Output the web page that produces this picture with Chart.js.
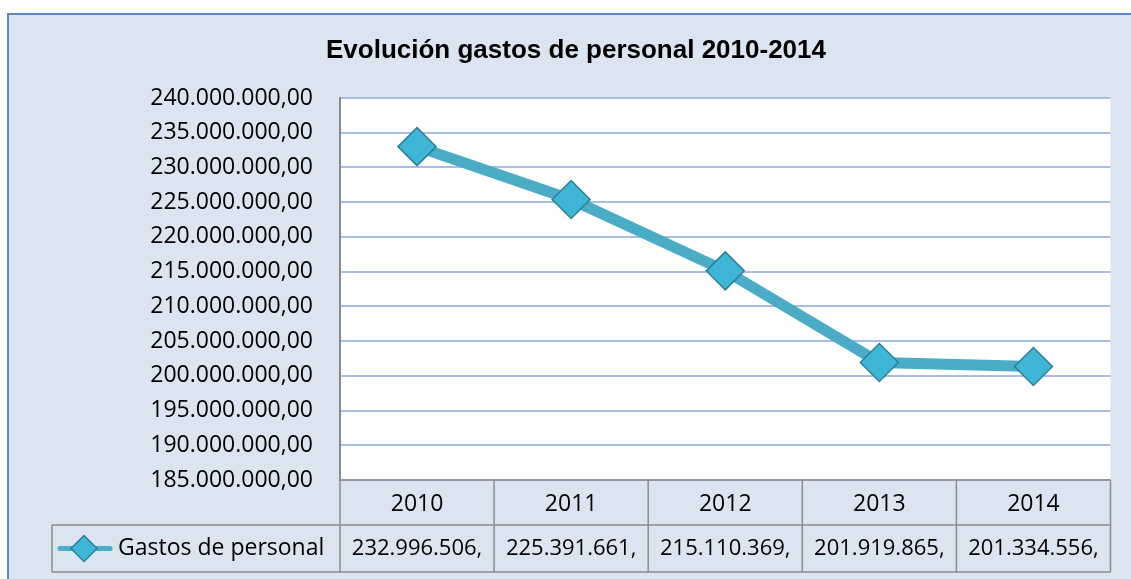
<!DOCTYPE html>
<html>
<head>
<meta charset="utf-8">
<title>Evolución gastos de personal 2010-2014</title>
<script src="https://cdn.jsdelivr.net/npm/chart.js@4.4.1/dist/chart.umd.min.js"></script>
<style>
    body { margin: 0; background: #ffffff; }
    #wrap { width: 1131px; height: 579px; }
</style>
</head>
<body>
<div id="wrap"><canvas id="chart" width="1131" height="579"></canvas></div>
<script>
const years = ['2010', '2011', '2012', '2013', '2014'];
const gastos = [232996506, 225391661, 215110369, 201919865, 201334556];
const yMin = 185000000;
const yMax = 240000000;
const yStep = 5000000;
const seriesName = 'Gastos de personal';
const chartTitle = 'Evolución gastos de personal 2010-2014';

const LINE_COLOR = '#4bacc6';
const MARKER_FILL = '#3fb6d6';
const MARKER_EDGE = '#2b7f98';
const TABLE_LINE = '#8c8c8c';
const FONT = "'Open Sans', sans-serif";

// 232996506 -> "232.996.506"
function withDots(n) {
    return String(Math.floor(n)).replace(/\B(?=(\d{3})+(?!\d))/g, '.');
}

function drawDiamond(ctx, x, y, r) {
    ctx.beginPath();
    ctx.moveTo(x, y - r);
    ctx.lineTo(x + r, y);
    ctx.lineTo(x, y + r);
    ctx.lineTo(x - r, y);
    ctx.closePath();
    ctx.fillStyle = MARKER_FILL;
    ctx.fill();
    ctx.lineWidth = 1.5;
    ctx.strokeStyle = MARKER_EDGE;
    ctx.stroke();
}

// frame, title, white plot area, and the data table under the x axis
const framePlugin = {
    id: 'frame',
    beforeDraw(chart) {
        const { ctx, chartArea: a } = chart;
        ctx.save();
        ctx.fillStyle = '#dbe5f1';
        ctx.fillRect(8, 14, chart.width, chart.height);
        ctx.strokeStyle = '#5b87c5';
        ctx.lineWidth = 2;
        ctx.strokeRect(8, 14, chart.width + 10, chart.height + 10);
        ctx.fillStyle = '#ffffff';
        ctx.fillRect(a.left, a.top, a.right - a.left, a.bottom - a.top);

        ctx.fillStyle = '#000000';
        ctx.font = "bold 26px 'Liberation Sans', Arial, sans-serif";
        ctx.textAlign = 'center';
        ctx.textBaseline = 'middle';
        ctx.fillText(chartTitle, 576, 51);
        ctx.restore();
    },
    afterDraw(chart) {
        const { ctx, chartArea: a } = chart;
        const x = chart.scales.x;
        const step = (a.right - a.left) / years.length;
        const rowMid = a.bottom + 45;
        const rowBot = a.bottom + 92;
        const legLeft = 52;

        ctx.save();
        ctx.strokeStyle = TABLE_LINE;
        ctx.lineWidth = 1.5;
        ctx.beginPath();
        ctx.moveTo(a.left, a.bottom); ctx.lineTo(a.right, a.bottom);
        ctx.moveTo(legLeft, rowMid); ctx.lineTo(a.right, rowMid);
        ctx.moveTo(legLeft, rowBot); ctx.lineTo(a.right, rowBot);
        ctx.moveTo(legLeft, rowMid); ctx.lineTo(legLeft, rowBot);
        for (let i = 0; i <= years.length; i++) {
            const xx = a.left + i * step;
            ctx.moveTo(xx, a.bottom); ctx.lineTo(xx, rowBot);
        }
        ctx.stroke();

        // legend key in the first column
        const ky = (rowMid + rowBot) / 2;
        ctx.strokeStyle = LINE_COLOR;
        ctx.lineWidth = 5;
        ctx.lineCap = 'round';
        ctx.beginPath();
        ctx.moveTo(60, ky); ctx.lineTo(110, ky);
        ctx.stroke();
        drawDiamond(ctx, 84, ky, 13);

        ctx.fillStyle = '#000000';
        ctx.font = '23px ' + FONT;
        ctx.textBaseline = 'middle';
        ctx.textAlign = 'left';
        ctx.fillText(seriesName, 118, ky);

        ctx.font = '22px ' + FONT;
        ctx.textAlign = 'center';
        gastos.forEach((v, i) => {
            ctx.fillText(withDots(v) + ',', x.getPixelForValue(i), ky);
        });
        ctx.restore();
    }
};

new Chart(document.getElementById('chart'), {
    type: 'line',
    data: {
        labels: years,
        datasets: [{
            label: seriesName,
            data: gastos,
            borderColor: LINE_COLOR,
            borderWidth: 11,
            pointStyle: 'rectRot',
            pointRadius: 19,
            pointBackgroundColor: MARKER_FILL,
            pointBorderColor: MARKER_EDGE,
            pointBorderWidth: 1.5,
            tension: 0
        }]
    },
    options: {
        responsive: false,
        animation: false,
        layout: { padding: { left: 0, right: 16, top: 98, bottom: 0 } },
        plugins: {
            legend: { display: false },
            tooltip: { enabled: false },
            title: { display: false }
        },
        scales: {
            x: {
                offset: true,
                grid: { display: false, drawTicks: false },
                border: { display: false },
                ticks: { color: '#000000', font: { family: FONT, size: 23 }, padding: 11 },
                afterFit(scale) { scale.height = 99; }
            },
            y: {
                min: yMin,
                max: yMax,
                grid: { color: '#a9bde6', lineWidth: 2, drawTicks: false },
                border: { color: '#8a8a8a', width: 2 },
                ticks: {
                    stepSize: yStep,
                    color: '#000000',
                    font: { family: FONT, size: 23 },
                    padding: 27,
                    callback: v => withDots(v) + ',00'
                },
                afterFit(scale) { scale.width = 340; }
            }
        }
    },
    plugins: [framePlugin]
});
</script>
</body>
</html>
